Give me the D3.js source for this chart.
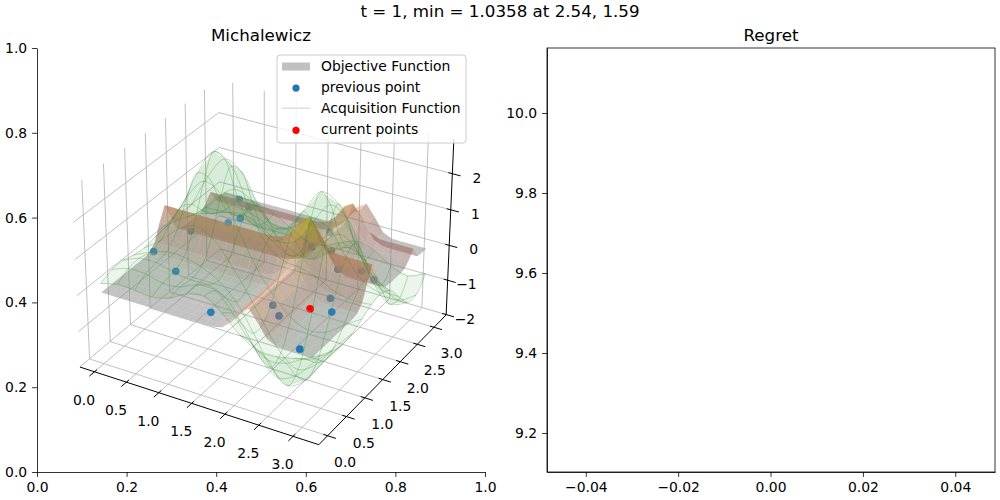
<!DOCTYPE html>
<html>
<head>
<meta charset="utf-8">
<script src="https://cdn.jsdelivr.net/npm/d3@7"></script>
<style>
  body { margin: 0; background: #fff; }
  text { font-family: "DejaVu Sans", sans-serif; fill: #000; }
</style>
</head>
<body>
<svg id="chart" width="1000" height="500"></svg>
<script>
// ---- data ---------------------------------------------------------------

const suptitle = "t = 1, min = 1.0358 at 2.54, 1.59";

// 3d axis ticks
const xTicks3d = [0, 0.5, 1, 1.5, 2, 2.5, 3];
const yTicks3d = [0, 0.5, 1, 1.5, 2, 2.5, 3];
const zTicks3d = [-2, -1, 0, 1, 2];

// ticks of the plain 2d axes lying under the 3d one
const flatTicks = [0, 0.2, 0.4, 0.6, 0.8, 1.0];

// regret panel ticks
const regretXTicks = [-0.04, -0.02, 0, 0.02, 0.04];
const regretYTicks = [9.2, 9.4, 9.6, 9.8, 10.0];

// objective (negated michalewicz) as two profiles, sampled at i * pi / 24
const objX = [0, 0, 0, 0, 0, 0, 0, 0, 0, 0, 0, 0, 0, 0.01, 0.07, 0.28, 0.64, 0.79, 0.48, 0.12, 0.01, 0, 0, 0, 0];
const objY = [0, 0, 0, 0, 0, 0, 0, 0, 0, 0.03, 0.2, 0.64, 1.0, 0.6, 0.14, 0.02, 0, 0, 0, 0, 0.14, 0.35, 0.02, 0, 0];

// acquisition function, rows = y, cols = x, sampled at i * pi / 12
const acq = [
  [0.25, 0.36, 0.35, 0.31, 0.42, 0.68, 0.76, 0.45, 0.00, -0.27, -0.28, -0.18, -0.07],
  [0.39, 0.56, 0.55, 0.44, 0.48, 0.68, 0.67, 0.19, -0.45, -0.80, -0.73, -0.45, -0.19],
  [0.40, 0.60, 0.62, 0.50, 0.43, 0.43, 0.22, -0.41, -1.17, -1.56, -1.34, -0.81, -0.34],
  [0.31, 0.53, 0.68, 0.67, 0.54, 0.30, -0.14, -0.87, -1.68, -2.05, -1.74, -1.04, -0.44],
  [0.27, 0.62, 1.05, 1.30, 1.12, 0.60, -0.08, -0.84, -1.54, -1.86, -1.57, -0.94, -0.40],
  [0.33, 0.90, 1.73, 2.28, 2.04, 1.20, 0.32, -0.33, -0.79, -1.01, -0.91, -0.57, -0.25],
  [0.38, 1.09, 2.15, 2.86, 2.59, 1.60, 0.74, 0.40, 0.34, 0.18, -0.05, -0.14, -0.10],
  [0.32, 0.93, 1.83, 2.44, 2.21, 1.41, 0.91, 1.10, 1.49, 1.33, 0.68, 0.14, -0.05],
  [0.19, 0.54, 1.06, 1.38, 1.20, 0.75, 0.69, 1.30, 1.97, 1.77, 0.83, 0.03, -0.21],
  [0.07, 0.21, 0.38, 0.43, 0.22, -0.05, 0.09, 0.77, 1.38, 1.12, 0.16, -0.57, -0.63],
  [0.02, 0.04, 0.04, -0.09, -0.39, -0.67, -0.58, -0.07, 0.33, 0.05, -0.75, -1.24, -1.05],
  [0.00, -0.01, -0.07, -0.26, -0.60, -0.91, -0.89, -0.55, -0.29, -0.52, -1.08, -1.37, -1.08],
  [0.00, -0.01, -0.07, -0.22, -0.49, -0.74, -0.75, -0.52, -0.35, -0.46, -0.77, -0.92, -0.71]
];

// sampled points [x, y, z]
const previousPoints = [
  [0.02, 1.24, 0], [0.55, 0.95, 0], [1.49, 0.29, 0], [0.48, 2.42, 0],
  [0.27, 3.07, 0], [0.56, 2.61, 0], [0.49, 2.95, 0], [0.16, 1.97, 0],
  [2.09, 0.84, 0], [2.29, 0.65, 0], [2.91, 0.09, 0], [2.65, 1.36, 0],
  [2.83, 1.07, 0], [1.79, 2.41, 0], [1.81, 2.88, 0], [2.07, 2.45, 0],
  [2.38, 2.06, 0], [2.67, 2.18, 0], [2.92, 2.06, 0]
];
const currentPoints = [[2.55, 1.00, 0]];

const legendItems = ["Objective Function", "previous point", "Acquisition Function", "current points"];

// ---- helpers ------------------------------------------------------------

const dot = (a, b) => a[0] * b[0] + a[1] * b[1] + a[2] * b[2];
const cross = (a, b) => [a[1] * b[2] - a[2] * b[1], a[2] * b[0] - a[0] * b[2], a[0] * b[1] - a[1] * b[0]];
const normalize = a => { const n = Math.hypot(...a); return a.map(v => v / n); };

const svg = d3.select("#chart");
svg.append("rect").attr("width", 1000).attr("height", 500).attr("fill", "#fff");

// ---- camera (matplotlib style: elev 30, azim -60, perspective) ----------

const boxAspect = [4, 4, 3];
const boxNorm = Math.hypot(...boxAspect);
const box = boxAspect.map(v => v / boxNorm * 1.8294640721620434);

const lims = {x: [-0.229, 3.371], y: [-0.229, 3.371], z: [-2.01, 2.94]};
const world = {
  x: d3.scaleLinear().domain(lims.x).range([0, box[0]]),
  y: d3.scaleLinear().domain(lims.y).range([0, box[1]]),
  z: d3.scaleLinear().domain(lims.z).range([0, box[2]])
};

const elev = 30 * Math.PI / 180;
const azim = -60 * Math.PI / 180;
const camDist = 10;
const viewW = [Math.cos(elev) * Math.cos(azim), Math.cos(elev) * Math.sin(azim), Math.sin(elev)];
const eye = box.map((b, k) => b / 2 + camDist * viewW[k]);
const viewU = normalize([-viewW[1], viewW[0], 0]);
const viewV = cross(viewW, viewU);

const screenX = d3.scaleLinear().domain([0, 1]).range([266.3, 266.3 + 2395]);
const screenY = d3.scaleLinear().domain([0, 1]).range([253.5, 253.5 - 2395]);

function toWorld(x, y, z) {
  return [world.x(x), world.y(y), world.z(z)];
}

function project(x, y, z) {
  const p = toWorld(x, y, z);
  const d = [p[0] - eye[0], p[1] - eye[1], p[2] - eye[2]];
  const depth = -dot(d, viewW);
  return [screenX(dot(d, viewU) / depth), screenY(dot(d, viewV) / depth), depth];
}

const [xlo, xhi] = lims.x, [ylo, yhi] = lims.y, [zlo, zhi] = lims.z;

// ---- plain 2d axes under the 3d one -------------------------------------

const flatX = d3.scaleLinear().domain([0, 1]).range([37, 485]);
const flatY = d3.scaleLinear().domain([0, 1]).range([472, 48]);

function styleAxis(g) {
  g.attr("font-family", null).attr("font-size", null);
  g.selectAll("text").style("font-size", "13.9px");
  g.selectAll("line").attr("stroke", "#000").attr("stroke-width", 0.8);
  g.selectAll("path").attr("stroke", "#000").attr("stroke-width", 0.8);
}

svg.append("g")
  .attr("transform", "translate(0,472)")
  .call(d3.axisBottom(flatX).tickValues(flatTicks).tickFormat(d3.format(".1f"))
    .tickSize(4.9).tickPadding(4.9).tickSizeOuter(0))
  .call(styleAxis);

svg.append("g")
  .attr("transform", "translate(37,0)")
  .call(d3.axisLeft(flatY).tickValues(flatTicks).tickFormat(d3.format(".1f"))
    .tickSize(4.9).tickPadding(4.9).tickSizeOuter(0))
  .call(styleAxis);

// ---- 3d grid and axes ---------------------------------------------------

const g3 = svg.append("g");
const lineGen = d3.line();

function seg(g, a, b, stroke, width) {
  g.append("path")
    .attr("d", lineGen([project(...a).slice(0, 2), project(...b).slice(0, 2)]))
    .attr("stroke", stroke)
    .attr("stroke-width", width)
    .attr("fill", "none");
}

const gridG = g3.append("g");
xTicks3d.forEach(t => {
  seg(gridG, [t, ylo, zlo], [t, yhi, zlo], "#b0b0b0", 0.8);
  seg(gridG, [t, yhi, zlo], [t, yhi, zhi], "#b0b0b0", 0.8);
});
yTicks3d.forEach(t => {
  seg(gridG, [xlo, t, zlo], [xhi, t, zlo], "#b0b0b0", 0.8);
  seg(gridG, [xlo, t, zlo], [xlo, t, zhi], "#b0b0b0", 0.8);
});
zTicks3d.forEach(t => {
  seg(gridG, [xlo, ylo, t], [xlo, yhi, t], "#b0b0b0", 0.8);
  seg(gridG, [xlo, yhi, t], [xhi, yhi, t], "#b0b0b0", 0.8);
});

const axisG = g3.append("g");
seg(axisG, [xlo, ylo, zlo], [xhi, ylo, zlo], "#000", 1);
seg(axisG, [xhi, ylo, zlo], [xhi, yhi, zlo], "#000", 1);
seg(axisG, [xhi, yhi, zlo], [xhi, yhi, zhi], "#000", 1);

const fmt1 = d3.format(".1f");
const fmt0 = d3.format("d");

xTicks3d.forEach(t => {
  seg(axisG, [t, ylo + 0.06, zlo], [t, ylo - 0.12, zlo], "#000", 1);
  const p = project(t, ylo, zlo);
  axisG.append("text").attr("x", p[0] - 10.4).attr("y", p[1] + 33)
    .attr("text-anchor", "middle").style("font-size", "13.9px").text(fmt1(t));
});
yTicks3d.forEach(t => {
  seg(axisG, [xhi - 0.06, t, zlo], [xhi + 0.12, t, zlo], "#000", 1);
  const p = project(xhi, t, zlo);
  axisG.append("text").attr("x", p[0] + 17.5).attr("y", p[1] + 31)
    .attr("text-anchor", "middle").style("font-size", "13.9px").text(fmt1(t));
});
zTicks3d.forEach(t => {
  seg(axisG, [xhi - 0.06, yhi, t], [xhi + 0.12, yhi, t], "#000", 1);
  const p = project(xhi, yhi, t);
  axisG.append("text").attr("x", p[0] + 29).attr("y", p[1] + 9)
    .attr("text-anchor", "end").style("font-size", "13.9px").text(fmt0(t));
});

// ---- surfaces and points, depth sorted ----------------------------------

const objGridX = d3.range(objX.length).map(i => i * Math.PI / (objX.length - 1));
const objGridY = d3.range(objY.length).map(j => j * Math.PI / (objY.length - 1));
const acqGridX = d3.range(acq[0].length).map(i => i * Math.PI / (acq[0].length - 1));
const acqGridY = d3.range(acq.length).map(j => j * Math.PI / (acq.length - 1));

const surfColor = d3.scaleLinear()
  .domain([0, 0.2, 0.6, 1.0, 1.4, 1.8])
  .range(["#9c9c9c", "#d0a098", "#f0a890", "#f5b070", "#f5c848", "#eeee30"])
  .clamp(true);

const light = normalize([-0.35, 0.55, 0.76]);

function quadNormal(c) {
  const w = c.map(p => toWorld(...p));
  const a = [w[2][0] - w[0][0], w[2][1] - w[0][1], w[2][2] - w[0][2]];
  const b = [w[3][0] - w[1][0], w[3][1] - w[1][1], w[3][2] - w[1][2]];
  return normalize(cross(a, b));
}

const items = [];

for (let j = 0; j < objGridY.length - 1; j++) {
  for (let i = 0; i < objGridX.length - 1; i++) {
    const c = [
      [objGridX[i], objGridY[j], objX[i] + objY[j]],
      [objGridX[i + 1], objGridY[j], objX[i + 1] + objY[j]],
      [objGridX[i + 1], objGridY[j + 1], objX[i + 1] + objY[j + 1]],
      [objGridX[i], objGridY[j + 1], objX[i] + objY[j + 1]]
    ];
    const pr = c.map(p => project(...p));
    const zMean = d3.mean(c, p => p[2]);
    const k = 0.3 + 0.7 * (dot(quadNormal(c), light) + 1) / 2;
    const base = d3.rgb(surfColor(zMean));
    items.push({
      type: "poly",
      depth: d3.mean(pr, p => p[2]),
      pts: pr.map(p => [p[0], p[1]]),
      fill: d3.rgb(base.r * k, base.g * k, base.b * k).formatHex(),
      opacity: 0.55
    });
  }
}

for (let j = 0; j < acqGridY.length - 1; j++) {
  for (let i = 0; i < acqGridX.length - 1; i++) {
    const c = [
      [acqGridX[i], acqGridY[j], acq[j][i]],
      [acqGridX[i + 1], acqGridY[j], acq[j][i + 1]],
      [acqGridX[i + 1], acqGridY[j + 1], acq[j + 1][i + 1]],
      [acqGridX[i], acqGridY[j + 1], acq[j + 1][i]]
    ];
    const pr = c.map(p => project(...p));
    items.push({
      type: "poly",
      depth: d3.mean(pr, p => p[2]),
      pts: pr.map(p => [p[0], p[1]]),
      fill: "#3f9f3f",
      opacity: 0.1
    });
  }
}

const pointDepths = [];
previousPoints.forEach(p => {
  const pr = project(...p);
  pointDepths.push(pr[2]);
  items.push({type: "point", depth: pr[2] - 0.035, x: pr[0], y: pr[1], fill: "#1f77b4"});
});
currentPoints.forEach(p => {
  const pr = project(...p);
  items.push({type: "point", depth: pr[2] - 0.035, x: pr[0], y: pr[1], fill: "#ff0000"});
});

const depthShade = d3.scaleLinear().domain(d3.extent(pointDepths)).range([1, 0.6]).clamp(true);

items.sort((a, b) => b.depth - a.depth);

const sceneG = g3.append("g");
items.forEach(d => {
  if (d.type === "poly") {
    sceneG.append("path")
      .attr("d", "M" + d.pts.join("L") + "Z")
      .attr("fill", d.fill)
      .attr("fill-opacity", d.opacity)
      .attr("stroke", "none");
  } else {
    sceneG.append("circle")
      .attr("cx", d.x).attr("cy", d.y).attr("r", 3.8)
      .attr("fill", d.fill)
      .attr("opacity", d.fill === "#ff0000" ? 1 : depthShade(d.depth + 0.035));
  }
});

// ---- acquisition wireframe ----------------------------------------------

const wireG = g3.append("g")
  .attr("fill", "none")
  .attr("stroke", "#2e8b2e")
  .attr("stroke-opacity", 0.38)
  .attr("stroke-width", 0.8);
const curve = d3.line().curve(d3.curveCatmullRom);

acqGridY.forEach((y, j) => {
  wireG.append("path").attr("d", curve(acqGridX.map((x, i) => project(x, y, acq[j][i]).slice(0, 2))));
});
acqGridX.forEach((x, i) => {
  wireG.append("path").attr("d", curve(acqGridY.map((y, j) => project(x, y, acq[j][i]).slice(0, 2))));
});

// ---- titles -------------------------------------------------------------

svg.append("text").attr("x", 500).attr("y", 17).attr("text-anchor", "middle")
  .style("font-size", "16.7px").text(suptitle);
svg.append("text").attr("x", 261).attr("y", 41).attr("text-anchor", "middle")
  .style("font-size", "16.7px").text("Michalewicz");

// ---- legend -------------------------------------------------------------

const legend = svg.append("g");
legend.append("rect")
  .attr("x", 277).attr("y", 55).attr("width", 189).attr("height", 88)
  .attr("rx", 3).attr("fill", "#fff").attr("fill-opacity", 0.8)
  .attr("stroke", "#cccccc").attr("stroke-width", 1);
const legendY = d3.scalePoint().domain(legendItems).range([66, 129.3]);
legendItems.forEach(name => {
  const cy = legendY(name);
  if (name === "Objective Function") {
    legend.append("rect").attr("x", 282).attr("y", cy - 3.5).attr("width", 28).attr("height", 8)
      .attr("fill", "#c0c0c0");
  } else if (name === "Acquisition Function") {
    legend.append("line").attr("x1", 282).attr("x2", 310).attr("y1", cy).attr("y2", cy)
      .attr("stroke", "#d7e5d7").attr("stroke-width", 1.5);
  } else {
    legend.append("circle").attr("cx", 296).attr("cy", cy + 1).attr("r", 3.6)
      .attr("fill", name === "previous point" ? "#1f77b4" : "#ff0000");
  }
  legend.append("text").attr("x", 321).attr("y", cy + 5).style("font-size", "13.9px").text(name);
});

// ---- regret panel -------------------------------------------------------

const regretX = d3.scaleLinear().domain([-0.0484, 0.0486]).range([547, 995]);
const regretY = d3.scaleLinear().domain([9.1025, 10.1625]).range([472, 48]);

svg.append("g")
  .attr("transform", "translate(0,472)")
  .call(d3.axisBottom(regretX).tickValues(regretXTicks).tickFormat(d3.format(".2f"))
    .tickSize(4.9).tickPadding(4.9).tickSizeOuter(0))
  .call(styleAxis);

svg.append("g")
  .attr("transform", "translate(547,0)")
  .call(d3.axisLeft(regretY).tickValues(regretYTicks).tickFormat(d3.format(".1f"))
    .tickSize(4.9).tickPadding(4.9).tickSizeOuter(0))
  .call(styleAxis);

svg.append("rect")
  .attr("x", 547).attr("y", 48).attr("width", 448).attr("height", 424)
  .attr("fill", "none").attr("stroke", "#000").attr("stroke-width", 0.8);

svg.append("text").attr("x", 771).attr("y", 41).attr("text-anchor", "middle")
  .style("font-size", "16.7px").text("Regret");
</script>
</body>
</html>
